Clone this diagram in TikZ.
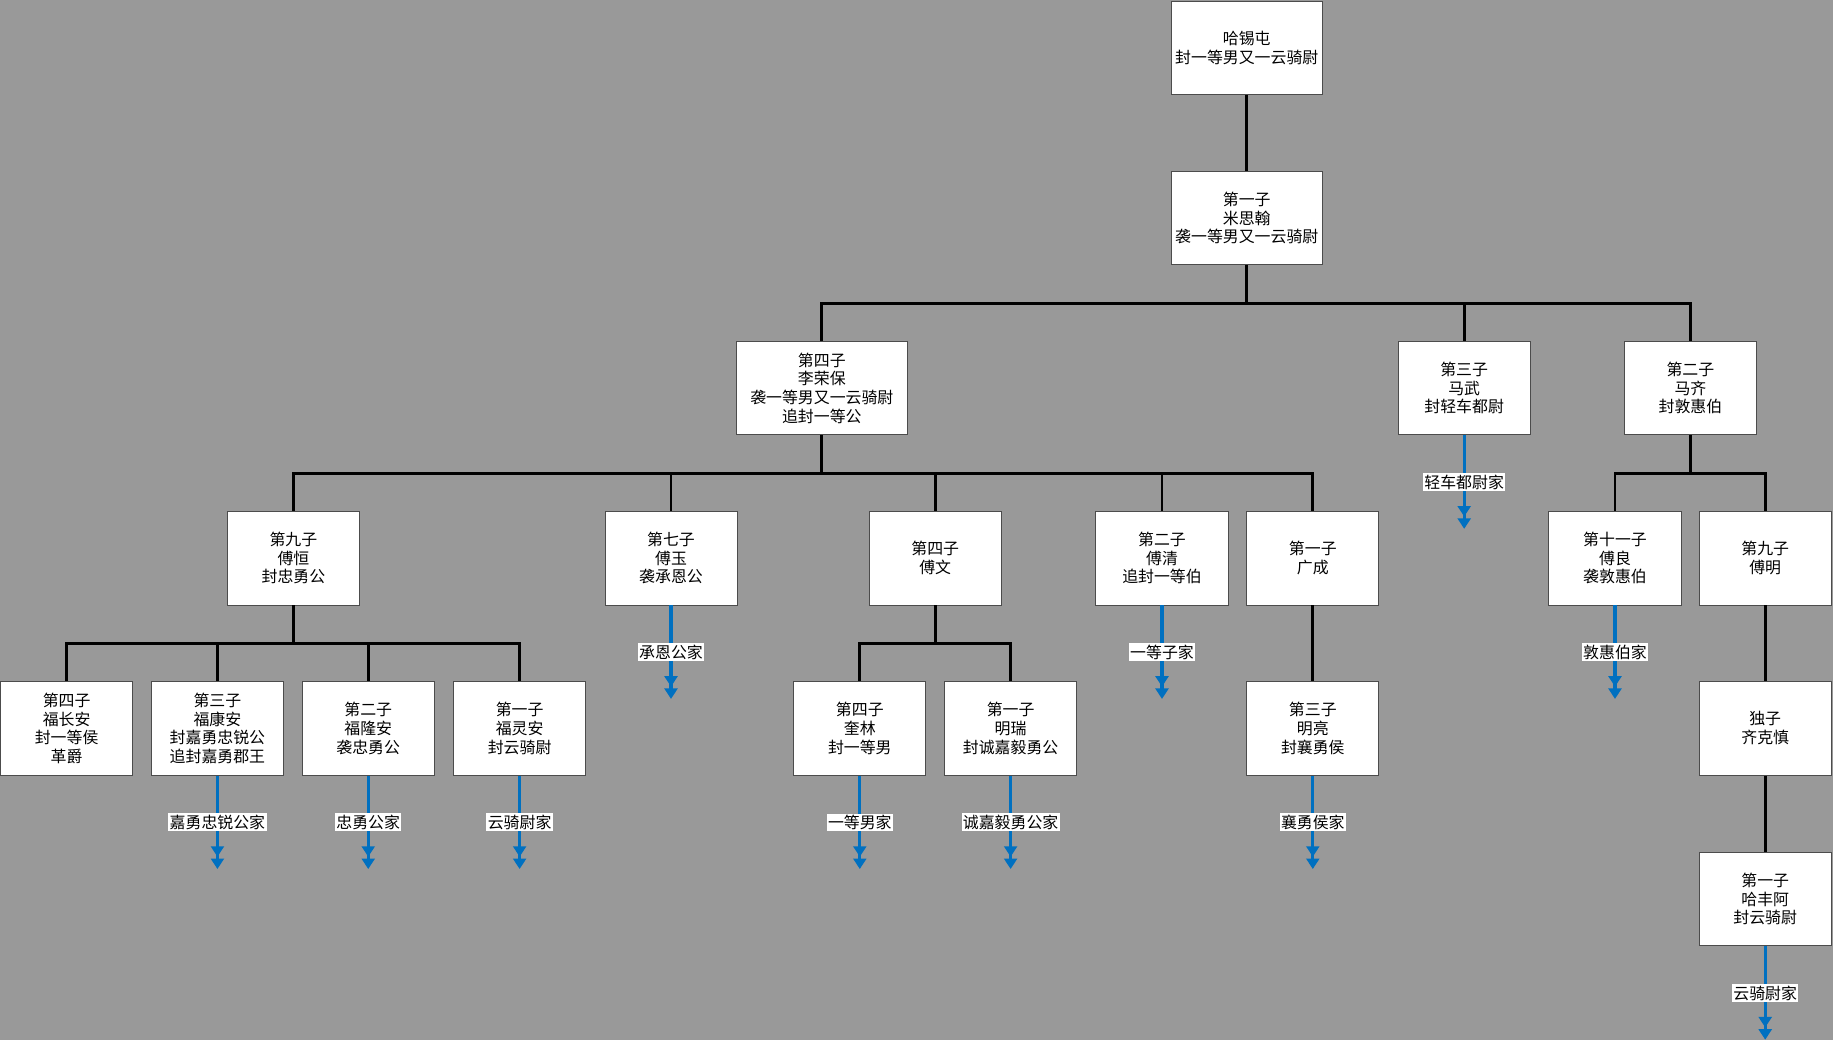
\documentclass[tikz,border=0pt]{standalone}
\usepackage{fontspec}
\newfontfamily\cjk{Noto Sans CJK SC}
\usetikzlibrary{arrows.meta}
\definecolor{bggray}{RGB}{153,153,153}
\definecolor{heirblue}{RGB}{0,112,192}

\begin{document}
\begin{tikzpicture}[x=1pt,y=-1pt,
  person/.style={draw=black!70, fill=white, line width=0.8pt, minimum width=113pt, minimum height=80pt, inner sep=0pt, align=center, font=\cjk\fontsize{13.6}{16}\selectfont},
  tree/.style={line width=2.5pt},
  heir/.style={heirblue, line width=2.8pt, -{Triangle[width=11pt,length=9pt,sep=1.5pt]Triangle[width=11pt,length=9pt]}},
  house/.style={fill=white, text=black, inner sep=1.2pt, font=\cjk\fontsize{13.6}{16}\selectfont}]
\useasboundingbox (0,0) rectangle (1568,889.6);
\fill[bggray] (0,0) rectangle (1568,889.6);
\node[person, minimum width=129pt] (haxitun) at (1066.5,41) {哈锡屯\\封一等男又一云骑尉};
\node[person, minimum width=129pt] (misihan) at (1066.5,186.5) {第一子\\米思翰\\袭一等男又一云骑尉};
\node[person, minimum width=146pt] (lirongbao) at (703,332) {第四子\\李荣保\\袭一等男又一云骑尉\\追封一等公};
\node[person] (mawu) at (1252.5,332) {第三子\\马武\\封轻车都尉};
\node[person] (maqi) at (1446,332) {第二子\\马齐\\封敦惠伯};
\node[person] (fuheng) at (251,477.5) {第九子\\傅恒\\封忠勇公};
\node[person] (fuyu) at (574,477.5) {第七子\\傅玉\\袭承恩公};
\node[person] (fuwen) at (800,477.5) {第四子\\傅文};
\node[person] (fuqing) at (994,477.5) {第二子\\傅清\\追封一等伯};
\node[person] (guangcheng) at (1123,477.5) {第一子\\广成};
\node[person] (fuliang) at (1381.5,477.5) {第十一子\\傅良\\袭敦惠伯};
\node[person] (fuming) at (1510,477.5) {第九子\\傅明};
\node[person] (fuchangan) at (57,623) {第四子\\福长安\\封一等侯\\革爵};
\node[person] (fukangan) at (186,623) {第三子\\福康安\\封嘉勇忠锐公\\追封嘉勇郡王};
\node[person] (fulongan) at (315,623) {第二子\\福隆安\\袭忠勇公};
\node[person] (fulingan) at (444.5,623) {第一子\\福灵安\\封云骑尉};
\node[person] (kuilin) at (735.5,623) {第四子\\奎林\\封一等男};
\node[person] (mingrui) at (864.5,623) {第一子\\明瑞\\封诚嘉毅勇公};
\node[person] (mingliang) at (1123,623) {第三子\\明亮\\封襄勇侯};
\node[person] (qikezhen) at (1510,623) {独子\\齐克慎};
\node[person] (hafenga) at (1510,769) {第一子\\哈丰阿\\封云骑尉};
% family lines
\draw[tree] (haxitun) -- (misihan);
\draw[tree] (misihan.south) -- ++(0,33) -| (lirongbao.north);
\draw[tree] (misihan.south) -- ++(0,33) -| (mawu.north);
\draw[tree] (misihan.south) -- ++(0,33) -| (maqi.north);
\draw[tree] (lirongbao.south) -- ++(0,33) -| (fuheng.north);
\draw[tree] (lirongbao.south) -- ++(0,33) -| (fuyu.north);
\draw[tree] (lirongbao.south) -- ++(0,33) -| (fuwen.north);
\draw[tree] (lirongbao.south) -- ++(0,33) -| (fuqing.north);
\draw[tree] (lirongbao.south) -- ++(0,33) -| (guangcheng.north);
\draw[tree] (maqi.south) -- ++(0,33) -| (fuliang.north);
\draw[tree] (maqi.south) -- ++(0,33) -| (fuming.north);
\draw[tree] (fuheng.south) -- ++(0,32.5) -| (fuchangan.north);
\draw[tree] (fuheng.south) -- ++(0,32.5) -| (fukangan.north);
\draw[tree] (fuheng.south) -- ++(0,32.5) -| (fulongan.north);
\draw[tree] (fuheng.south) -- ++(0,32.5) -| (fulingan.north);
\draw[tree] (fuwen.south) -- ++(0,32.5) -| (kuilin.north);
\draw[tree] (fuwen.south) -- ++(0,32.5) -| (mingrui.north);
\draw[tree] (guangcheng) -- (mingliang);
\draw[tree] (fuming) -- (qikezhen);
\draw[tree] (qikezhen) -- (hafenga);
% houses
\draw[heir] (mawu.south) -- ++(0,80) node[house, midway] {轻车都尉家};
\draw[heir] (fuyu.south) -- ++(0,80) node[house, midway] {承恩公家};
\draw[heir] (fuqing.south) -- ++(0,80) node[house, midway] {一等子家};
\draw[heir] (fuliang.south) -- ++(0,80) node[house, midway] {敦惠伯家};
\draw[heir] (fukangan.south) -- ++(0,80) node[house, midway] {嘉勇忠锐公家};
\draw[heir] (fulongan.south) -- ++(0,80) node[house, midway] {忠勇公家};
\draw[heir] (fulingan.south) -- ++(0,80) node[house, midway] {云骑尉家};
\draw[heir] (kuilin.south) -- ++(0,80) node[house, midway] {一等男家};
\draw[heir] (mingrui.south) -- ++(0,80) node[house, midway] {诚嘉毅勇公家};
\draw[heir] (mingliang.south) -- ++(0,80) node[house, midway] {襄勇侯家};
\draw[heir] (hafenga.south) -- ++(0,80) node[house, midway] {云骑尉家};
\end{tikzpicture}
\end{document}
